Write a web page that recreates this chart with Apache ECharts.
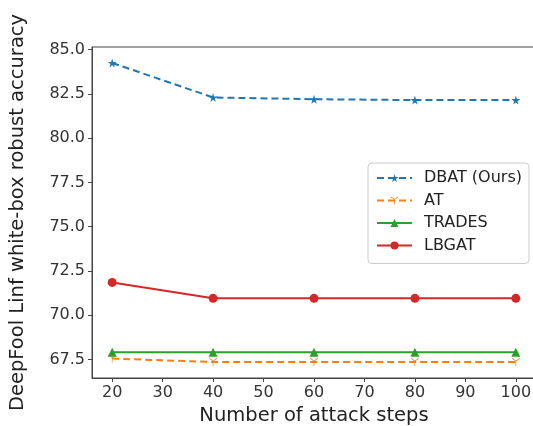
<!DOCTYPE html>
<html>
<head>
<meta charset="utf-8">
<script src="https://cdn.jsdelivr.net/npm/echarts@6/dist/echarts.min.js"></script>
<style>
  html, body { margin: 0; padding: 0; background: #fff; }
  #chart { width: 533px; height: 426px; }
</style>
</head>
<body>
<div id="chart"></div>
<script>
// Robust accuracy under DeepFool (Linf) versus number of attack steps
const steps = [20, 40, 60, 80, 100];
const dbat = [84.25, 82.3, 82.2, 82.15, 82.15];
const at = [67.55, 67.35, 67.35, 67.35, 67.35];
const trades = [67.9, 67.9, 67.9, 67.9, 67.9];
const lbgat = [71.85, 70.95, 70.95, 70.95, 70.95];

const xTicks = [20, 30, 40, 50, 60, 70, 80, 90, 100];
const yTicks = [67.5, 70.0, 72.5, 75.0, 77.5, 80.0, 82.5, 85.0];

const starPath = 'path://M50,0 L61,35 L98,35 L68,57 L79,91 L50,70 L21,91 L32,57 L2,35 L39,35 Z';
const triDownPath = 'path://M46,50 L46,100 L54,100 L54,50 L97,25 L93,18 L50,43 L7,18 L3,25 Z';

const pairs = arr => steps.map((s, i) => [s, arr[i]]);

const chart = echarts.init(document.getElementById('chart'), null, { renderer: 'canvas' });
const font = 'DejaVu Sans';

chart.setOption({
  animation: false,
  backgroundColor: '#fff',
  textStyle: { fontFamily: font },
  grid: {
    left: 92, top: 47, width: 444, height: 331,
    containLabel: false, outerBoundsMode: 'none',
    show: true, borderColor: '#444', borderWidth: 1
  },
  xAxis: {
    type: 'value', min: 16, max: 104,
    name: 'Number of attack steps', nameLocation: 'middle', nameGap: 28,
    nameTextStyle: { fontSize: 19.5, color: '#222', fontFamily: font },
    splitLine: { show: false },
    axisLine: { lineStyle: { color: '#444' } },
    axisTick: { customValues: xTicks, length: 4, lineStyle: { color: '#444' } },
    axisLabel: { customValues: xTicks, fontSize: 16, color: '#333', margin: 7, fontFamily: font }
  },
  yAxis: {
    type: 'value', min: 66.45, max: 85.15,
    name: 'DeepFool Linf white-box robust accuracy', nameLocation: 'middle', nameGap: 64,
    nameTextStyle: { fontSize: 19.5, color: '#222', fontFamily: font },
    splitLine: { show: false },
    axisLine: { show: true, lineStyle: { color: '#444' } },
    axisTick: { show: true, customValues: yTicks, length: 4, lineStyle: { color: '#444' } },
    axisLabel: {
      customValues: yTicks, fontSize: 16, color: '#333', margin: 7, fontFamily: font,
      formatter: v => v.toFixed(1)
    }
  },
  legend: {
    orient: 'vertical', left: 368, top: 163,
    itemWidth: 35, itemHeight: 10, itemGap: 6.5,
    padding: [7, 7, 10, 8],
    backgroundColor: '#fff', borderColor: '#ccc', borderWidth: 1, borderRadius: 4,
    textStyle: { fontSize: 16, lineHeight: 14, color: '#222', fontFamily: font, padding: [0, 0, 0, 7] },
    data: ['DBAT (Ours)', 'AT', 'TRADES', 'LBGAT']
  },
  series: [
    {
      name: 'DBAT (Ours)', type: 'line', data: pairs(dbat),
      color: '#1f77b4', symbol: starPath, symbolSize: 9,
      lineStyle: { width: 2, type: [7, 4] }
    },
    {
      name: 'AT', type: 'line', data: pairs(at),
      color: '#ff7f0e', symbol: triDownPath, symbolSize: 8,
      lineStyle: { width: 2, type: [7, 4] }
    },
    {
      name: 'TRADES', type: 'line', data: pairs(trades),
      color: '#2ca02c', symbol: 'triangle', symbolSize: 9,
      lineStyle: { width: 2 }
    },
    {
      name: 'LBGAT', type: 'line', data: pairs(lbgat),
      color: '#d62728', symbol: 'circle', symbolSize: 9,
      lineStyle: { width: 2 }
    }
  ]
});
</script>
</body>
</html>
